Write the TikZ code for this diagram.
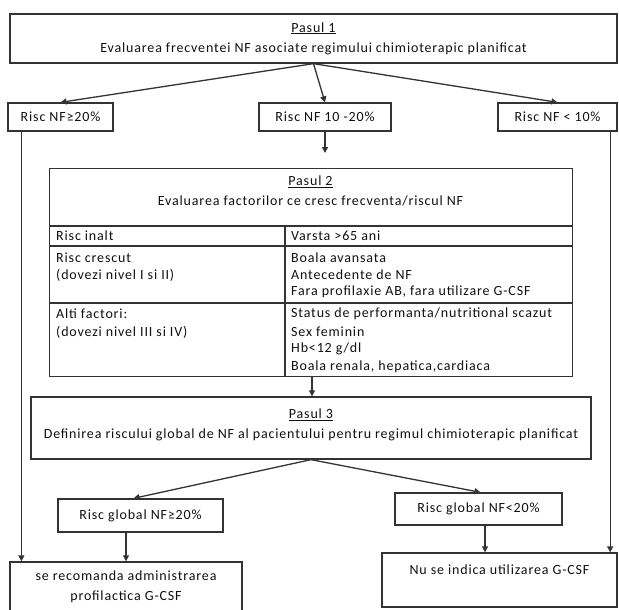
\documentclass[tikz,border=0pt]{standalone}
\usepackage{fontspec}
\setmainfont{Carlito}[LetterSpace=6]
\usetikzlibrary{arrows.meta}
\definecolor{ln}{HTML}{333333}
\definecolor{tx}{HTML}{111111}
\tikzset{
  box/.style={draw=ln, line width=1.3pt, fill=white, inner sep=0pt, align=center, text=tx, font=\fontsize{14}{20}\selectfont},
  arr/.style={draw=ln, line width=1.3pt, -{Triangle[length=6pt,width=6pt]}},
  plain/.style={draw=ln, line width=1.3pt},
  cell/.style={anchor=west, inner sep=0pt, text=tx, font=\fontsize{14}{17}\selectfont},
}
\begin{document}
\begin{tikzpicture}[x=1pt,y=-1pt]
\useasboundingbox[fill=white] (0,0) rectangle (619,610);
% Step 1
\node[box, minimum width=607pt, minimum height=49pt] (p1) at (313.5,38.5) {\underline{Pasul 1}\\Evaluarea frecventei NF asociate regimului chimioterapic planificat};
\node[box, minimum width=105pt, minimum height=28pt] (l1) at (60.5,117) {Risc NF≥20\%};
\node[box, minimum width=132pt, minimum height=28pt] (m1) at (325,117) {Risc NF 10 -20\%};
\node[box, minimum width=119pt, minimum height=28pt] (r1) at (557.5,117) {Risc NF < 10\%};
\draw[arr] (p1.south) -- (l1.north);
\draw[arr] (p1.south) -- (m1.north);
\draw[arr] (p1.south) -- (r1.north);
\coordinate (m1end) at (325,153);
\draw[arr] (m1.south) -- (m1end);
% Step 2 table
\node[box, minimum width=523pt, minimum height=208pt, anchor=north west] (t2) at (49,168) {};
\node[box, draw=none, fill=none, anchor=center] (t2h) at (310.5,191) {\underline{Pasul 2}\\Evaluarea factorilor ce cresc frecventa/riscul NF};
\coordinate (r1a) at (49,226);
\coordinate (r2a) at (49,246);
\coordinate (r3a) at (49,303);
\coordinate (csplit) at (285,226);
\draw[plain] (r1a) -- (r1a -| t2.east);
\draw[plain] (r2a) -- (r2a -| t2.east);
\draw[plain] (r3a) -- (r3a -| t2.east);
\draw[plain] (csplit) -- (csplit |- t2.south);
\node[cell] (c11) at (56,236) {Risc inalt};
\node[cell] (c12) at (291,236) {Varsta >65 ani};
\node[cell] (c21) at (56,258) {Risc crescut};
\node[cell] (c21b) at (56,275) {(dovezi nivel I si II)};
\node[cell] (c22) at (291,258) {Boala avansata};
\node[cell] (c22b) at (291,275) {Antecedente de NF};
\node[cell] (c22c) at (291,292) {Fara profilaxie AB, fara utilizare G-CSF};
\node[cell] (c31) at (56,314) {Alti factori:};
\node[cell] (c31b) at (56,332) {(dovezi nivel III si IV)};
\node[cell] (c32) at (291,314) {Status de performanta/nutritional scazut};
\node[cell] (c32b) at (291,332) {Sex feminin};
\node[cell] (c32c) at (291,349) {Hb<12 g/dl};
\node[cell] (c32d) at (291,367) {Boala renala, hepatica,cardiaca};
% Step 3
\node[box, minimum width=560pt, minimum height=62pt, text depth=8pt] (p3) at (311,428) {\underline{Pasul 3}\\Definirea riscului global de NF al pacientului pentru regimul chimioterapic planificat};
\draw[arr] (t2.south -| 312,0) -- (p3.north -| 312,0);
\node[box, minimum width=165pt, minimum height=33pt] (gl) at (140.5,515.5) {Risc global NF≥20\%};
\node[box, minimum width=167pt, minimum height=32pt] (gr) at (478.5,509) {Risc global NF<20\%};
\draw[arr] (p3.south) -- ([xshift=-7pt]gl.north);
\draw[arr] (p3.south) -- ([xshift=2pt]gr.north);
\node[box, minimum width=232pt, minimum height=50pt] (bl) at (126,587) {se recomanda administrarea\\profilactica G-CSF};
\node[box, minimum width=235pt, minimum height=54pt, text depth=20pt] (br) at (499.5,580) {Nu se indica utilizarea G-CSF};
\draw[arr] ([xshift=-14.5pt]gl.south) -- ([xshift=-14.5pt]gl.south |- bl.north);
\draw[arr] ([xshift=6.5pt]gr.south) -- ([xshift=6.5pt]gr.south |- br.north);
\draw[arr] ([xshift=14pt]l1.south west) -- ([xshift=14pt]l1.south west |- bl.north);
\draw[arr] ([xshift=-7.5pt]r1.south east) -- ([xshift=-7.5pt]r1.south east |- br.north);
\end{tikzpicture}
\end{document}
